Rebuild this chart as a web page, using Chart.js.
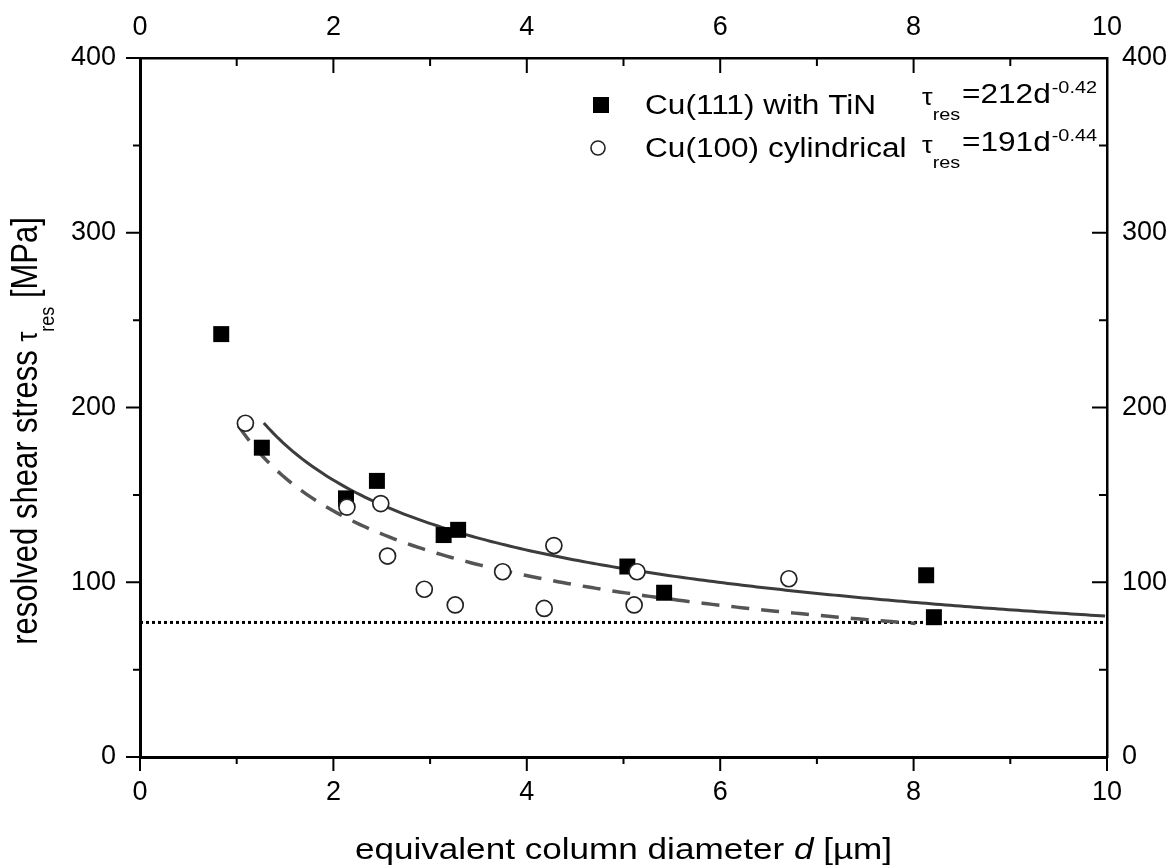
<!DOCTYPE html>
<html>
<head>
<meta charset="utf-8">
<title>Resolved shear stress vs column diameter</title>
<script src="https://cdn.jsdelivr.net/npm/chart.js@4.4.1/dist/chart.umd.min.js"></script>
<style>
  html, body { margin: 0; padding: 0; background: #fff; }
  #wrap { width: 1172px; height: 866px; position: relative; }
</style>
</head>
<body>
<div id="wrap"><canvas id="chart"></canvas></div>
<script>
// Cu(111) columns with TiN: equivalent diameter d [um] / resolved shear stress [MPa]
const tinD   = [0.84, 1.26, 2.13, 2.45, 3.14, 3.29, 5.04, 5.42, 8.13, 8.21];
const tinTau = [242, 177, 148, 158, 127, 130, 109, 94, 104, 80];

// Cu(100) cylindrical columns
const cylD   = [1.09, 2.14, 2.49, 2.56, 2.94, 3.26, 3.75, 4.28, 4.18, 5.14, 5.11, 6.71];
const cylTau = [191, 143, 145, 115, 96, 87, 106, 121, 85, 106, 87, 102];

// power-law fits tau = a * d^b (coefficients as printed in the legend)
const fitTiN = { a: 212, b: -0.42, from: 1.28, to: 10 };
const fitCyl = { a: 191, b: -0.44, from: 1.02, to: 8.05 };

// horizontal reference level [MPa]
const baseLevel = 77;

// axis ticks
const xTicks = [0, 2, 4, 6, 8, 10];
const xMinor = [1, 3, 5, 7, 9];
const yTicks = [0, 100, 200, 300, 400];
const yMinor = [50, 150, 250, 350];

const FONT = '"Liberation Sans", Arial, Helvetica, sans-serif';
const STRETCH = 1.17;   // text in this figure is drawn a bit wide

Chart.defaults.font.family = FONT;
Chart.defaults.color = '#000';

function fitCurve(f) {
  const pts = [];
  for (let d = f.from; d <= f.to + 1e-9; d += 0.05) {
    pts.push({ x: d, y: f.a * Math.pow(d, f.b) });
  }
  return pts;
}

const zip = (xs, ys) => xs.map((x, i) => ({ x: x, y: ys[i] }));

// draw a text run with a stretch, return its advance width
function run(ctx, text, x, y, size, italic, sx, sy) {
  ctx.font = (italic ? 'italic ' : '') + size + 'px ' + FONT;
  const w = ctx.measureText(text).width;
  ctx.save();
  ctx.translate(x, y);
  ctx.scale(sx, sy);
  ctx.fillText(text, 0, 0);
  ctx.restore();
  return w * sx;
}

function measureRun(ctx, text, size, italic, sx) {
  ctx.font = (italic ? 'italic ' : '') + size + 'px ' + FONT;
  return ctx.measureText(text).width * sx;
}

// minor/major tick marks on all four sides
const tickMarks = {
  id: 'tickMarks',
  afterDraw(chart) {
    const { ctx, chartArea: a, scales } = chart;
    const sx = scales.x, sy = scales.y;
    ctx.save();
    ctx.strokeStyle = '#000';
    ctx.lineWidth = 2;
    ctx.beginPath();
    const tick = (x1, y1, x2, y2) => { ctx.moveTo(x1, y1); ctx.lineTo(x2, y2); };
    xTicks.forEach(v => {
      const px = sx.getPixelForValue(v);
      tick(px, a.bottom, px, a.bottom + 14);
      tick(px, a.top, px, a.top + 15);
    });
    xMinor.forEach(v => {
      const px = sx.getPixelForValue(v);
      tick(px, a.bottom, px, a.bottom + 7);
      tick(px, a.top, px, a.top + 8);
    });
    yTicks.forEach(v => {
      const py = sy.getPixelForValue(v);
      tick(a.left, py, a.left - 14, py);
      tick(a.right, py, a.right - 15, py);
    });
    yMinor.forEach(v => {
      const py = sy.getPixelForValue(v);
      tick(a.left, py, a.left - 7, py);
      tick(a.right, py, a.right - 8, py);
    });
    ctx.stroke();
    ctx.restore();
  }
};

// legend with the fit equations
const legendBox = {
  id: 'legendBox',
  afterDraw(chart) {
    const ctx = chart.ctx;
    ctx.save();
    ctx.fillStyle = '#000';
    ctx.textBaseline = 'alphabetic';

    // markers
    ctx.fillRect(593, 97, 16, 16);
    ctx.beginPath();
    ctx.arc(598, 148, 7, 0, Math.PI * 2);
    ctx.fillStyle = '#fff';
    ctx.fill();
    ctx.lineWidth = 1.6;
    ctx.strokeStyle = '#222';
    ctx.stroke();
    ctx.fillStyle = '#000';

    run(ctx, 'Cu(111) with TiN', 645, 114, 27, false, STRETCH, 1);
    run(ctx, 'Cu(100) cylindrical', 645, 157, 27, false, STRETCH, 1);

    const rows = [
      { base: 103, coef: '=212d', exp: '-0.42' },
      { base: 151, coef: '=191d', exp: '-0.44' }
    ];
    rows.forEach(r => {
      let x = 922;
      x += run(ctx, 'τ', x, r.base + 2, 23, false, STRETCH, 1);
      run(ctx, 'res', x, r.base + 17, 17, false, STRETCH, 1);
      x = 962;
      x += run(ctx, r.coef, x, r.base, 27, false, STRETCH, 1);
      run(ctx, r.exp, x + 1, r.base - 10, 17, false, STRETCH, 1);
    });
    ctx.restore();
  }
};

// axis titles with italic / subscript parts
const axisTitles = {
  id: 'axisTitles',
  afterDraw(chart) {
    const { ctx, chartArea: a } = chart;
    ctx.save();
    ctx.fillStyle = '#000';
    ctx.textBaseline = 'alphabetic';

    // bottom title
    const xParts = [['equivalent column diameter ', false], ['d', true], [' [µm]', false]];
    const size = 30;
    let total = 0;
    xParts.forEach(p => { total += measureRun(ctx, p[0], size, p[1], STRETCH); });
    let x = (a.left + a.right) / 2 - total / 2;
    xParts.forEach(p => { x += run(ctx, p[0], x, 859, size, p[1], STRETCH, 1); });

    // left title, rotated; glyph height is stretched instead
    ctx.translate(37, 431);
    ctx.rotate(-Math.PI / 2);
    const parts = [
      { t: 'resolved shear stress ', s: 31, dy: 0 },
      { t: 'τ', s: 25, dy: 0 },
      { t: 'res', s: 18, dy: 17 },
      { t: ' [MPa]', s: 31, dy: 0 }
    ];
    let len = 0;
    parts.forEach(p => { len += measureRun(ctx, p.t, p.s, false, 1); });
    let y0 = -len / 2;
    parts.forEach(p => { y0 += run(ctx, p.t, y0, p.dy, p.s, false, 1, STRETCH); });
    ctx.restore();
  }
};

const tickFont = { family: FONT, size: 27 };

new Chart(document.getElementById('chart'), {
  type: 'scatter',
  data: {
    datasets: [
      {
        label: 'Cu(100) cylindrical',
        data: zip(cylD, cylTau),
        pointStyle: 'circle',
        pointRadius: 8,
        pointBackgroundColor: '#fff',
        pointBorderColor: '#222',
        pointBorderWidth: 1.7,
        order: 0
      },
      {
        label: 'Cu(111) with TiN',
        data: zip(tinD, tinTau),
        pointStyle: 'rect',
        pointRadius: 11.3,
        pointBackgroundColor: '#000',
        pointBorderWidth: 0,
        order: 1
      },
      {
        label: 'fit Cu(111)',
        data: fitCurve(fitTiN),
        showLine: true,
        pointRadius: 0,
        borderColor: '#3c3c3c',
        borderWidth: 3,
        tension: 0,
        order: 2
      },
      {
        label: 'fit Cu(100)',
        data: fitCurve(fitCyl),
        showLine: true,
        pointRadius: 0,
        borderColor: '#555',
        borderWidth: 3.5,
        borderDash: [18, 12],
        tension: 0,
        order: 3
      },
      {
        label: 'level',
        data: [{ x: 0, y: baseLevel }, { x: 10, y: baseLevel }],
        showLine: true,
        pointRadius: 0,
        borderColor: '#000',
        borderWidth: 3,
        borderDash: [3, 3],
        order: 4
      }
    ]
  },
  options: {
    responsive: true,
    maintainAspectRatio: false,
    animation: false,
    layout: { padding: 0 },
    plugins: {
      legend: { display: false },
      tooltip: { enabled: false }
    },
    scales: {
      x: {
        type: 'linear', position: 'bottom', min: 0, max: 10,
        afterFit: s => { s.height = 109; },
        afterBuildTicks: s => { s.ticks = xTicks.map(v => ({ value: v })); },
        ticks: { font: tickFont, padding: 19, maxRotation: 0, autoSkip: false },
        grid: { display: false, drawTicks: false },
        border: { display: true, color: '#000', width: 3 }
      },
      x2: {
        type: 'linear', position: 'top', min: 0, max: 10,
        afterFit: s => { s.height = 58; },
        afterBuildTicks: s => { s.ticks = xTicks.map(v => ({ value: v })); },
        ticks: { font: tickFont, padding: 14, maxRotation: 0, autoSkip: false },
        grid: { display: false, drawTicks: false },
        border: { display: true, color: '#000', width: 2.5 }
      },
      y: {
        type: 'linear', position: 'left', min: 0, max: 400,
        afterFit: s => { s.width = 140; },
        afterBuildTicks: s => { s.ticks = yTicks.map(v => ({ value: v })); },
        ticks: { font: tickFont, padding: 24, autoSkip: false },
        grid: { display: false, drawTicks: false },
        border: { display: true, color: '#000', width: 3 }
      },
      y2: {
        type: 'linear', position: 'right', min: 0, max: 400,
        afterFit: s => { s.width = 65; },
        afterBuildTicks: s => { s.ticks = yTicks.map(v => ({ value: v })); },
        ticks: { font: tickFont, padding: 15, autoSkip: false },
        grid: { display: false, drawTicks: false },
        border: { display: true, color: '#000', width: 2.5 }
      }
    }
  },
  plugins: [tickMarks, legendBox, axisTitles]
});
</script>
</body>
</html>
